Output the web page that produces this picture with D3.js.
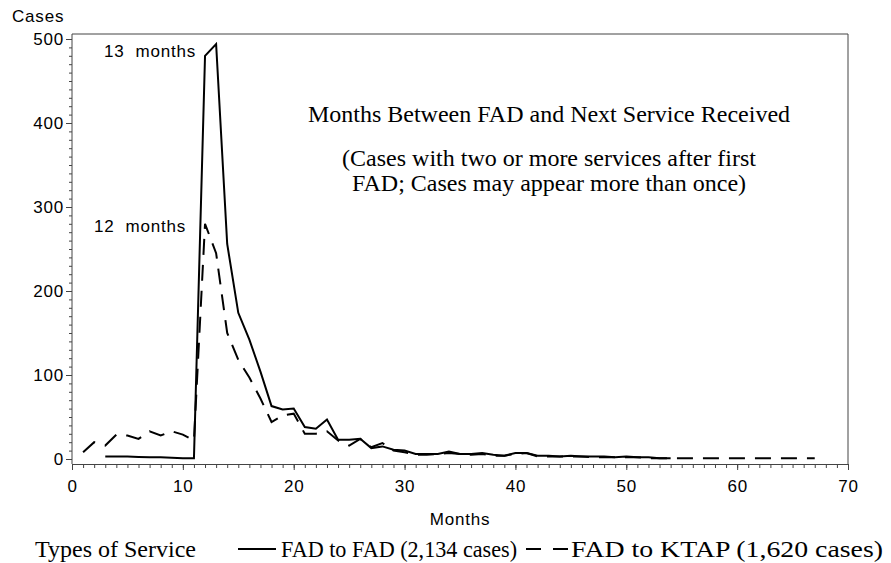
<!DOCTYPE html>
<html>
<head>
<meta charset="utf-8">
<script src="https://cdn.jsdelivr.net/npm/d3@7"></script>
<style>
  body { margin: 0; background: #fff; }
  svg { display: block; }
</style>
</head>
<body>
<svg width="891" height="563"></svg>
<script>
// FAD to FAD (solid)
const fadMonths = d3.range(3, 55);
const fadValues = [3, 3, 3, 2.5, 2, 2, 1.5, 1, 1, 480, 494, 256, 174, 142, 104, 63, 59, 60,
  38, 36, 47, 23, 23, 24, 13, 15, 11, 10, 6, 6, 6, 9, 6, 6, 7, 5, 4, 7, 7, 4, 4, 3, 4, 3,
  3, 3, 2, 3, 2, 2, 1, 1];

// FAD to KTAP (dashed)
const ktapMonths = d3.range(1, 68);
const ktapValues = [8, 20, 16, 29, 28, 24, 33, 28, 33, 29, 22, 280, 245, 150, 118, 97, 72,
  44, 52, 54, 30, 30, 33, 22, 16, 24, 14, 19, 10, 8, 5, 5, 6, 7, 6, 5, 6, 4, 4, 6, 7, 3, 3,
  3, 3, 3, 2, 2, 2, 2, 2, 1, 1, 1, 1, 1, 1, 1, 1, 1, 1, 1, 1, 1, 1, 1, 1];

const xTicks = [0, 10, 20, 30, 40, 50, 60, 70];
const yTicks = [0, 100, 200, 300, 400, 500];

const svg = d3.select('svg');
const sans = 'Arial, "Liberation Sans", Helvetica, sans-serif';
const serif = '"Times New Roman", "Liberation Serif", serif';

const plotL = 72, plotR = 848, plotT = 34, plotB = 464;

const x = d3.scaleLinear().domain([0, 70]).range([plotL, plotR]);
const y = d3.scaleLinear().domain([0, 500]).range([459, 39]);

function sansText(sel) {
  sel.attr('font-family', sans).attr('font-size', 17)
    .attr('letter-spacing', 0.8).attr('fill', '#000');
}

// frame
svg.append('path')
  .attr('d', `M${plotL},${plotT}H${plotR}V${plotB}`)
  .attr('fill', 'none')
  .attr('stroke', '#444')
  .attr('stroke-width', 1);

// x axis
const xAxis = svg.append('g').attr('transform', `translate(0,${plotB})`);
xAxis.call(d3.axisBottom(x).tickValues(d3.range(0, 71, 1)).tickSize(4).tickFormat(''));
xAxis.select('.domain').attr('stroke', '#444');
xAxis.selectAll('.tick line').attr('stroke', '#444');
const xMajor = svg.append('g').attr('transform', `translate(0,${plotB})`)
  .call(d3.axisBottom(x).tickValues(xTicks).tickSize(6).tickPadding(10));
xMajor.select('.domain').remove();
xMajor.selectAll('text').call(sansText);
xMajor.selectAll('.tick line').attr('stroke', '#444');

// y axis
const yAxis = svg.append('g').attr('transform', `translate(${plotL},0)`);
yAxis.call(d3.axisLeft(y).tickValues(d3.range(0, 501, 10)).tickSize(3).tickFormat(''));
yAxis.select('.domain').remove();
yAxis.selectAll('.tick line').attr('stroke', '#444');
const yMajor = svg.append('g').attr('transform', `translate(${plotL},0)`)
  .call(d3.axisLeft(y).tickValues(yTicks).tickSize(6).tickPadding(2));
yMajor.select('.domain').remove();
yMajor.selectAll('.tick line').attr('stroke', '#444');
yMajor.selectAll('text').call(sansText);
svg.append('line')
  .attr('x1', plotL).attr('x2', plotL).attr('y1', plotT).attr('y2', plotB)
  .attr('stroke', '#444');

// lines
const line = d3.line().x(d => x(d[0])).y(d => y(d[1]));

svg.append('path')
  .datum(fadMonths.map((m, i) => [m, fadValues[i]]))
  .attr('d', line)
  .attr('fill', 'none')
  .attr('stroke', '#000')
  .attr('stroke-width', 2);

svg.append('path')
  .datum(ktapMonths.map((m, i) => [m, ktapValues[i]]))
  .attr('d', line)
  .attr('fill', 'none')
  .attr('stroke', '#000')
  .attr('stroke-width', 2)
  .attr('stroke-dasharray', '16,10');

// text
svg.append('text').attr('x', 12).attr('y', 22).call(sansText).text('Cases');
svg.append('text').attr('x', 196).attr('y', 57).attr('text-anchor', 'end')
  .call(sansText).style('white-space', 'pre').text('13  months');
svg.append('text').attr('x', 186).attr('y', 232).attr('text-anchor', 'end')
  .call(sansText).style('white-space', 'pre').text('12  months');

const titleLines = [
  ['Months Between FAD and Next Service Received', 122],
  ['(Cases with two or more services after first', 166],
  ['FAD; Cases may appear more than once)', 191]
];
svg.selectAll('.title').data(titleLines).join('text')
  .attr('x', 549).attr('y', d => d[1]).attr('text-anchor', 'middle')
  .attr('font-family', serif).attr('font-size', 24).text(d => d[0]);

svg.append('text').attr('x', 460).attr('y', 525).attr('text-anchor', 'middle')
  .call(sansText).text('Months');

// legend
const legendText = (tx, len, label) => svg.append('text')
  .attr('x', tx).attr('y', 557)
  .attr('font-family', serif).attr('font-size', 24)
  .attr('textLength', len).attr('lengthAdjust', 'spacingAndGlyphs')
  .text(label);
legendText(35, 161, 'Types of Service');
svg.append('line').attr('x1', 238).attr('x2', 276).attr('y1', 549).attr('y2', 549)
  .attr('stroke', '#000').attr('stroke-width', 2);
legendText(281, 236, 'FAD to FAD (2,134 cases)');
svg.append('line').attr('x1', 526).attr('x2', 569).attr('y1', 549).attr('y2', 549)
  .attr('stroke', '#000').attr('stroke-width', 2).attr('stroke-dasharray', '15,12');
legendText(571, 312, 'FAD to KTAP (1,620 cases)');
</script>
</body>
</html>
